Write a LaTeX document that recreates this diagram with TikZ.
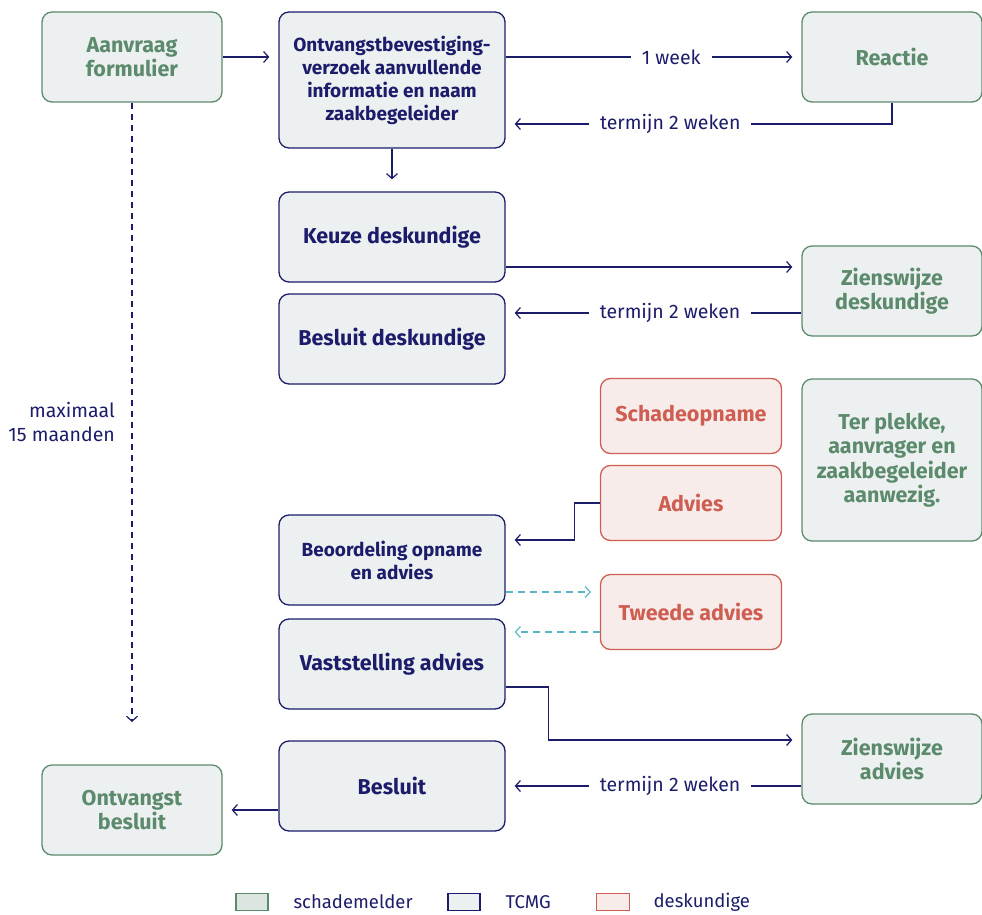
\documentclass[tikz,border=0pt]{standalone}
\usepackage{fontspec}
\setmainfont{Fira Sans}
\usetikzlibrary{arrows.meta}
\definecolor{navy}{HTML}{1C1C6B}
\definecolor{groen}{HTML}{5C8A6C}
\definecolor{rood}{HTML}{CF5E52}
\definecolor{grijs}{HTML}{EDF0F0}
\definecolor{roze}{HTML}{F8ECEB}
\definecolor{lichtgroen}{HTML}{DCE5E0}
\definecolor{teal}{HTML}{5BB4C8}
\tikzset{
  box/.style={rounded corners=10pt, line width=1.3pt, align=center, inner sep=0pt,
    font=\fontsize{21.5}{24.5}\selectfont\bfseries},
  melder/.style={box, draw=groen, fill=grijs, text=groen, minimum width=180pt, minimum height=90pt},
  tcmg/.style={box, draw=navy, fill=grijs, text=navy, minimum width=226pt, minimum height=90pt},
  deskundig/.style={box, draw=rood, fill=roze, text=rood, minimum width=181pt, minimum height=75pt},
  klein/.style={font=\fontsize{19}{23}\selectfont\bfseries},
  pijl/.style={draw=navy, line width=1.2pt, -{Straight Barb[length=5pt,width=11pt]}},
  stip/.style={pijl, draw=teal, dash pattern=on 7pt off 5pt},
  termijn/.style={fill=white, text=navy, inner xsep=11pt, font=\fontsize{19.5}{22}\selectfont},
}
\begin{document}
\begin{tikzpicture}[x=1pt, y=-1pt]
  \useasboundingbox (0,0) rectangle (982,915);
  % schademelder
  \node[melder] (aanvraag) at (132,57) {Aanvraag\\formulier};
  \node[melder] (reactie) at (892,57) {Reactie};
  \node[melder] (zienswijzedesk) at (892,291) {Zienswijze\\deskundige};
  \node[melder, minimum height=162pt] (terplekke) at (892,460) {Ter plekke,\\aanvrager en\\zaakbegeleider\\aanwezig.};
  \node[melder] (zienswijzeadv) at (892,759) {Zienswijze\\advies};
  \node[melder] (ontvangst) at (132,810) {Ontvangst\\besluit};
  % TCMG
  \node[tcmg, klein, minimum height=136pt] (bevestiging) at (392,80)
    {Ontvangstbevestiging-\\verzoek aanvullende\\informatie en naam\\zaakbegeleider};
  \node[tcmg] (keuze) at (392,237) {Keuze deskundige};
  \node[tcmg] (besluitdesk) at (392,339) {Besluit deskundige};
  \node[tcmg, klein] (beoordeling) at (392,560) {Beoordeling opname\\en advies};
  \node[tcmg] (vaststelling) at (392,664) {Vaststelling advies};
  \node[tcmg] (besluit) at (392,786) {Besluit};
  % deskundige
  \node[deskundig] (opname) at (691,416) {Schadeopname};
  \node[deskundig] (advies) at (691,503) {Advies};
  \node[deskundig] (tweede) at (691,612) {Tweede advies};

  \coordinate (eind) at (132,722);
  \node[text=navy, align=right, anchor=east, inner sep=0pt, font=\fontsize{19.5}{24}\selectfont] (maximaal) at (115,422) {maximaal\\15 maanden};

  \begin{scope}[shorten >=9pt]
    \draw[pijl] (aanvraag.east) -- (aanvraag.east -| bevestiging.west);
    \draw[pijl] (bevestiging.east |- reactie.west) -- node[termijn, pos=0.56] {1 week} (reactie.west);
    \draw[pijl] (reactie.south) |- node[termijn, pos=0.787] {termijn 2 weken} ([yshift=-44pt]bevestiging.east);
    \draw[pijl, shorten >=12pt] (bevestiging.south) -- (keuze.north);
    \draw[pijl] ([yshift=-30pt]keuze.east) -- ([yshift=-30pt]keuze.east -| zienswijzedesk.west);
    \draw[pijl] ([yshift=-22pt]zienswijzedesk.west) -- node[termijn, pos=0.444] {termijn 2 weken}
      ([yshift=-22pt]zienswijzedesk.west -| besluitdesk.east);
    \draw[pijl] (advies.west) -- ++(-25,0) |- ([yshift=20pt]beoordeling.east);
    \draw[stip] ([yshift=-32pt]beoordeling.east) -- ([yshift=-32pt]beoordeling.east -| tweede.west);
    \draw[stip] ([yshift=-20pt]tweede.west) -- ([yshift=-20pt]tweede.west -| vaststelling.east);
    \draw[pijl] ([yshift=-23pt]vaststelling.east) -- ++(43,0) |- ([yshift=19pt]zienswijzeadv.west);
    \draw[pijl] ([yshift=-27pt]zienswijzeadv.west) -- node[termijn, pos=0.444] {termijn 2 weken} (besluit.east);
    \draw[pijl] ([yshift=-24pt]besluit.west) -- (ontvangst.east);
  \end{scope}
  \draw[pijl, dash pattern=on 6pt off 5pt] (aanvraag.south) -- (eind);

  % legenda
  \begin{scope}[font=\fontsize{18.5}{20}\selectfont, line width=1.2pt]
    \node[draw=groen, fill=lichtgroen, minimum width=32pt, minimum height=17pt, inner sep=0pt] (leg1) at (252,902) {};
    \node[anchor=west, text=navy, inner sep=0pt] at (293,902) {schademelder};
    \node[draw=navy, fill=grijs, minimum width=32pt, minimum height=17pt, inner sep=0pt] (leg2) at (464,902) {};
    \node[anchor=west, text=navy, inner sep=0pt] at (505,902) {TCMG};
    \node[draw=rood, fill=roze, minimum width=33pt, minimum height=17pt, inner sep=0pt] (leg3) at (613,902) {};
    \node[anchor=west, text=navy, inner sep=0pt] at (653,902) {deskundige};
  \end{scope}
\end{tikzpicture}
\end{document}
